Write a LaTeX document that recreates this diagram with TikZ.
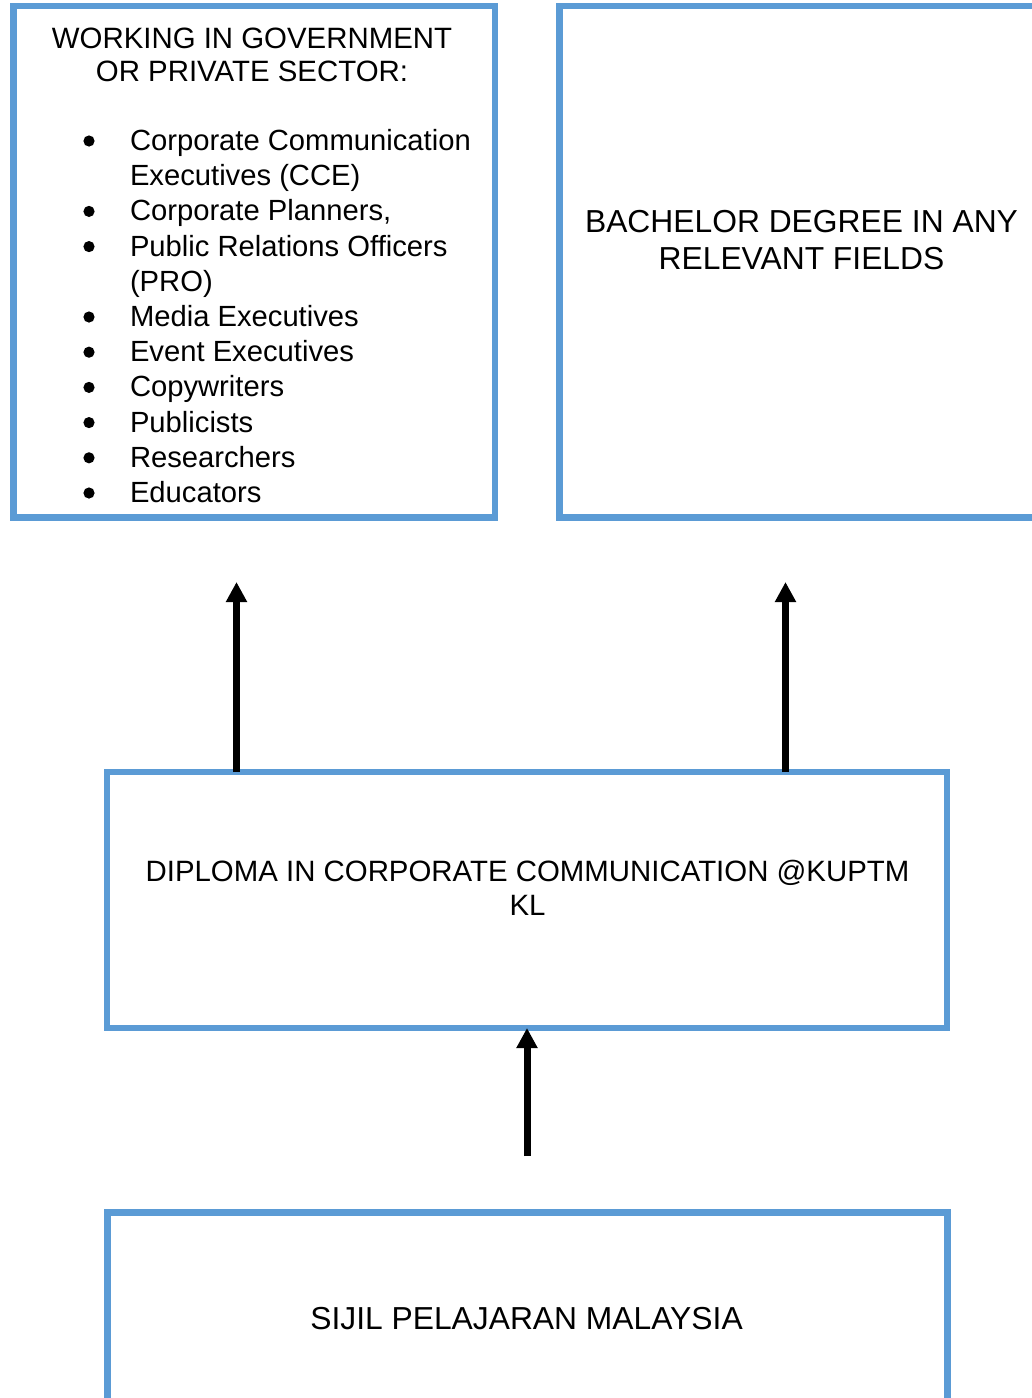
\documentclass[tikz,border=0pt]{standalone}
\usepackage{fontspec}
\setmainfont{Liberation Sans}
\usetikzlibrary{arrows.meta,positioning}

\begin{document}
\begin{tikzpicture}[x=0.5pt,y=-0.5pt,
    every node/.style={inner sep=0pt, outer sep=0pt},
    panel/.style={draw=boxblue, line width=3.3pt, fill=none},
    head/.style={anchor=base, font=\fontsize{14.7}{17}\selectfont},
    big/.style={anchor=base, font=\fontsize{15.9}{19}\selectfont},
    item/.style={anchor=base west, font=\fontsize{14.6}{17}\selectfont},
    dot/.style={circle, fill=black, minimum size=5.6pt},
    flow/.style={-{Triangle[width=10pt,length=10pt]}, line width=3.5pt}]
  \definecolor{boxblue}{HTML}{5B9BD5}
  \useasboundingbox (0,0) rectangle (1032,1398);
  \clip (0,0) rectangle (1032,1398);
  % boxes
  \node[panel, minimum width=240.75pt, minimum height=255.75pt] (jobs) at (254.25,261.75) {};
  \node[panel, minimum width=240.75pt, minimum height=255.75pt] (degree) at (800.25,261.75) {};
  \node[panel, minimum width=420pt, minimum height=128pt] (diploma) at (527,900) {};
  \node[panel, minimum width=420pt, minimum height=128pt] (spm) at (527.25,1340.5) {};
  % texts
  \node[head] (head1) at (252,48) {WORKING IN GOVERNMENT};
  \node[head] (head2) at (252,81) {OR PRIVATE SECTOR:};
  \foreach \txt/\bul [count=\k from 0] in {Corporate Communication/1, Executives (CCE)/0,
      {Corporate Planners,}/1, Public Relations Officers/1, (PRO)/0, Media Executives/1,
      Event Executives/1, Copywriters/1, Publicists/1, Researchers/1, Educators/1}{
    \node[item] (job\k) at (130,150.5+35.2*\k) {\txt};
    \ifnum\bul=1 \node[dot] (dot\k) at (89,141+35.2*\k) {}; \fi
  }
  \node[big] (deg1) at (801.5,232.5) {BACHELOR DEGREE IN ANY};
  \node[big] (deg2) at (801.5,269.5) {RELEVANT FIELDS};
  \node[head] (dip1) at (527.5,881) {DIPLOMA IN CORPORATE COMMUNICATION @KUPTM};
  \node[head] (dip2) at (527.5,915) {KL};
  \node[big] (spmtext) at (526.5,1329) {SIJIL PELAJARAN MALAYSIA};
  % arrows
  \coordinate (upL) at (236.5,582);
  \coordinate (upR) at (785.5,582);
  \coordinate (spmtop) at (527,1156);
  \draw[flow] (diploma.north -| upL) -- (upL);
  \draw[flow] (diploma.north -| upR) -- (upR);
  \draw[flow] (spmtop) -- (diploma.south);
\end{tikzpicture}
\end{document}
